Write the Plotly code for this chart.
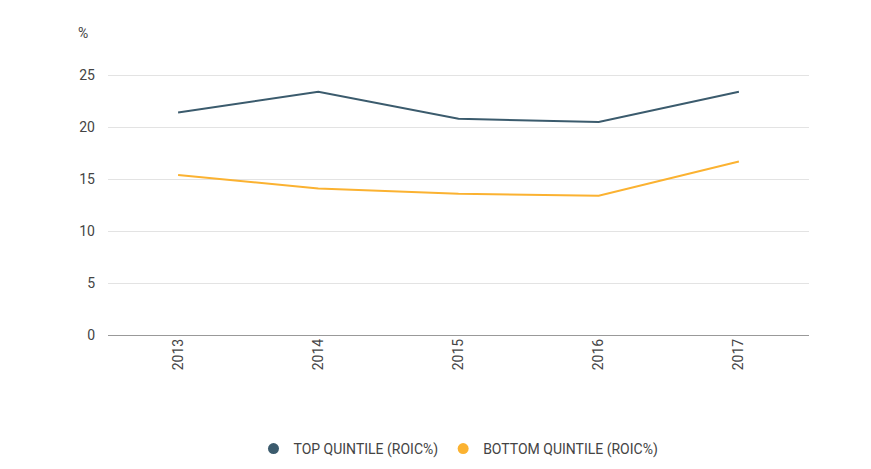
import plotly.graph_objects as go

years = ["2013", "2014", "2015", "2016", "2017"]
top_quintile = [21.4, 23.4, 20.8, 20.5, 23.4]
bottom_quintile = [15.4, 14.1, 13.6, 13.4, 16.7]

series = [("TOP QUINTILE (ROIC%)", top_quintile, "#3b5b6d"),
          ("BOTTOM QUINTILE (ROIC%)", bottom_quintile, "#fbb231")]

fig = go.Figure()
for name, vals, col in series:
    fig.add_trace(go.Scatter(x=years, y=vals, mode="lines", showlegend=False,
                             line=dict(color=col, width=2)))
# legend entries as dots
for name, vals, col in series:
    fig.add_trace(go.Scatter(x=[None], y=[None], mode="markers", name=name,
                             marker=dict(color=col, size=11, symbol="circle")))

fig.update_layout(
    width=871, height=469,
    margin=dict(l=100, r=70, t=62, b=114),
    plot_bgcolor="white", paper_bgcolor="white",
    font=dict(family="Roboto, sans-serif", size=14, color="#444"),
    legend=dict(orientation="h", x=0.5, xanchor="center", y=-0.43, yanchor="middle",
                font=dict(size=14)),
    annotations=[dict(text="%", xref="x domain", yref="y domain", x=-0.035, y=1.14,
                      showarrow=False, xanchor="center", yanchor="middle")],
)
fig.update_xaxes(type="category", range=[-0.5, 4.5], tickangle=-90, showgrid=False,
                 showline=False, ticks="")
fig.update_yaxes(range=[0, 25.5], tickvals=[0, 5, 10, 15, 20, 25], gridcolor="#e3e3e3",
                 zeroline=True, zerolinecolor="#999", zerolinewidth=1, ticklabelstandoff=12)

fig.write_html("out.html")
